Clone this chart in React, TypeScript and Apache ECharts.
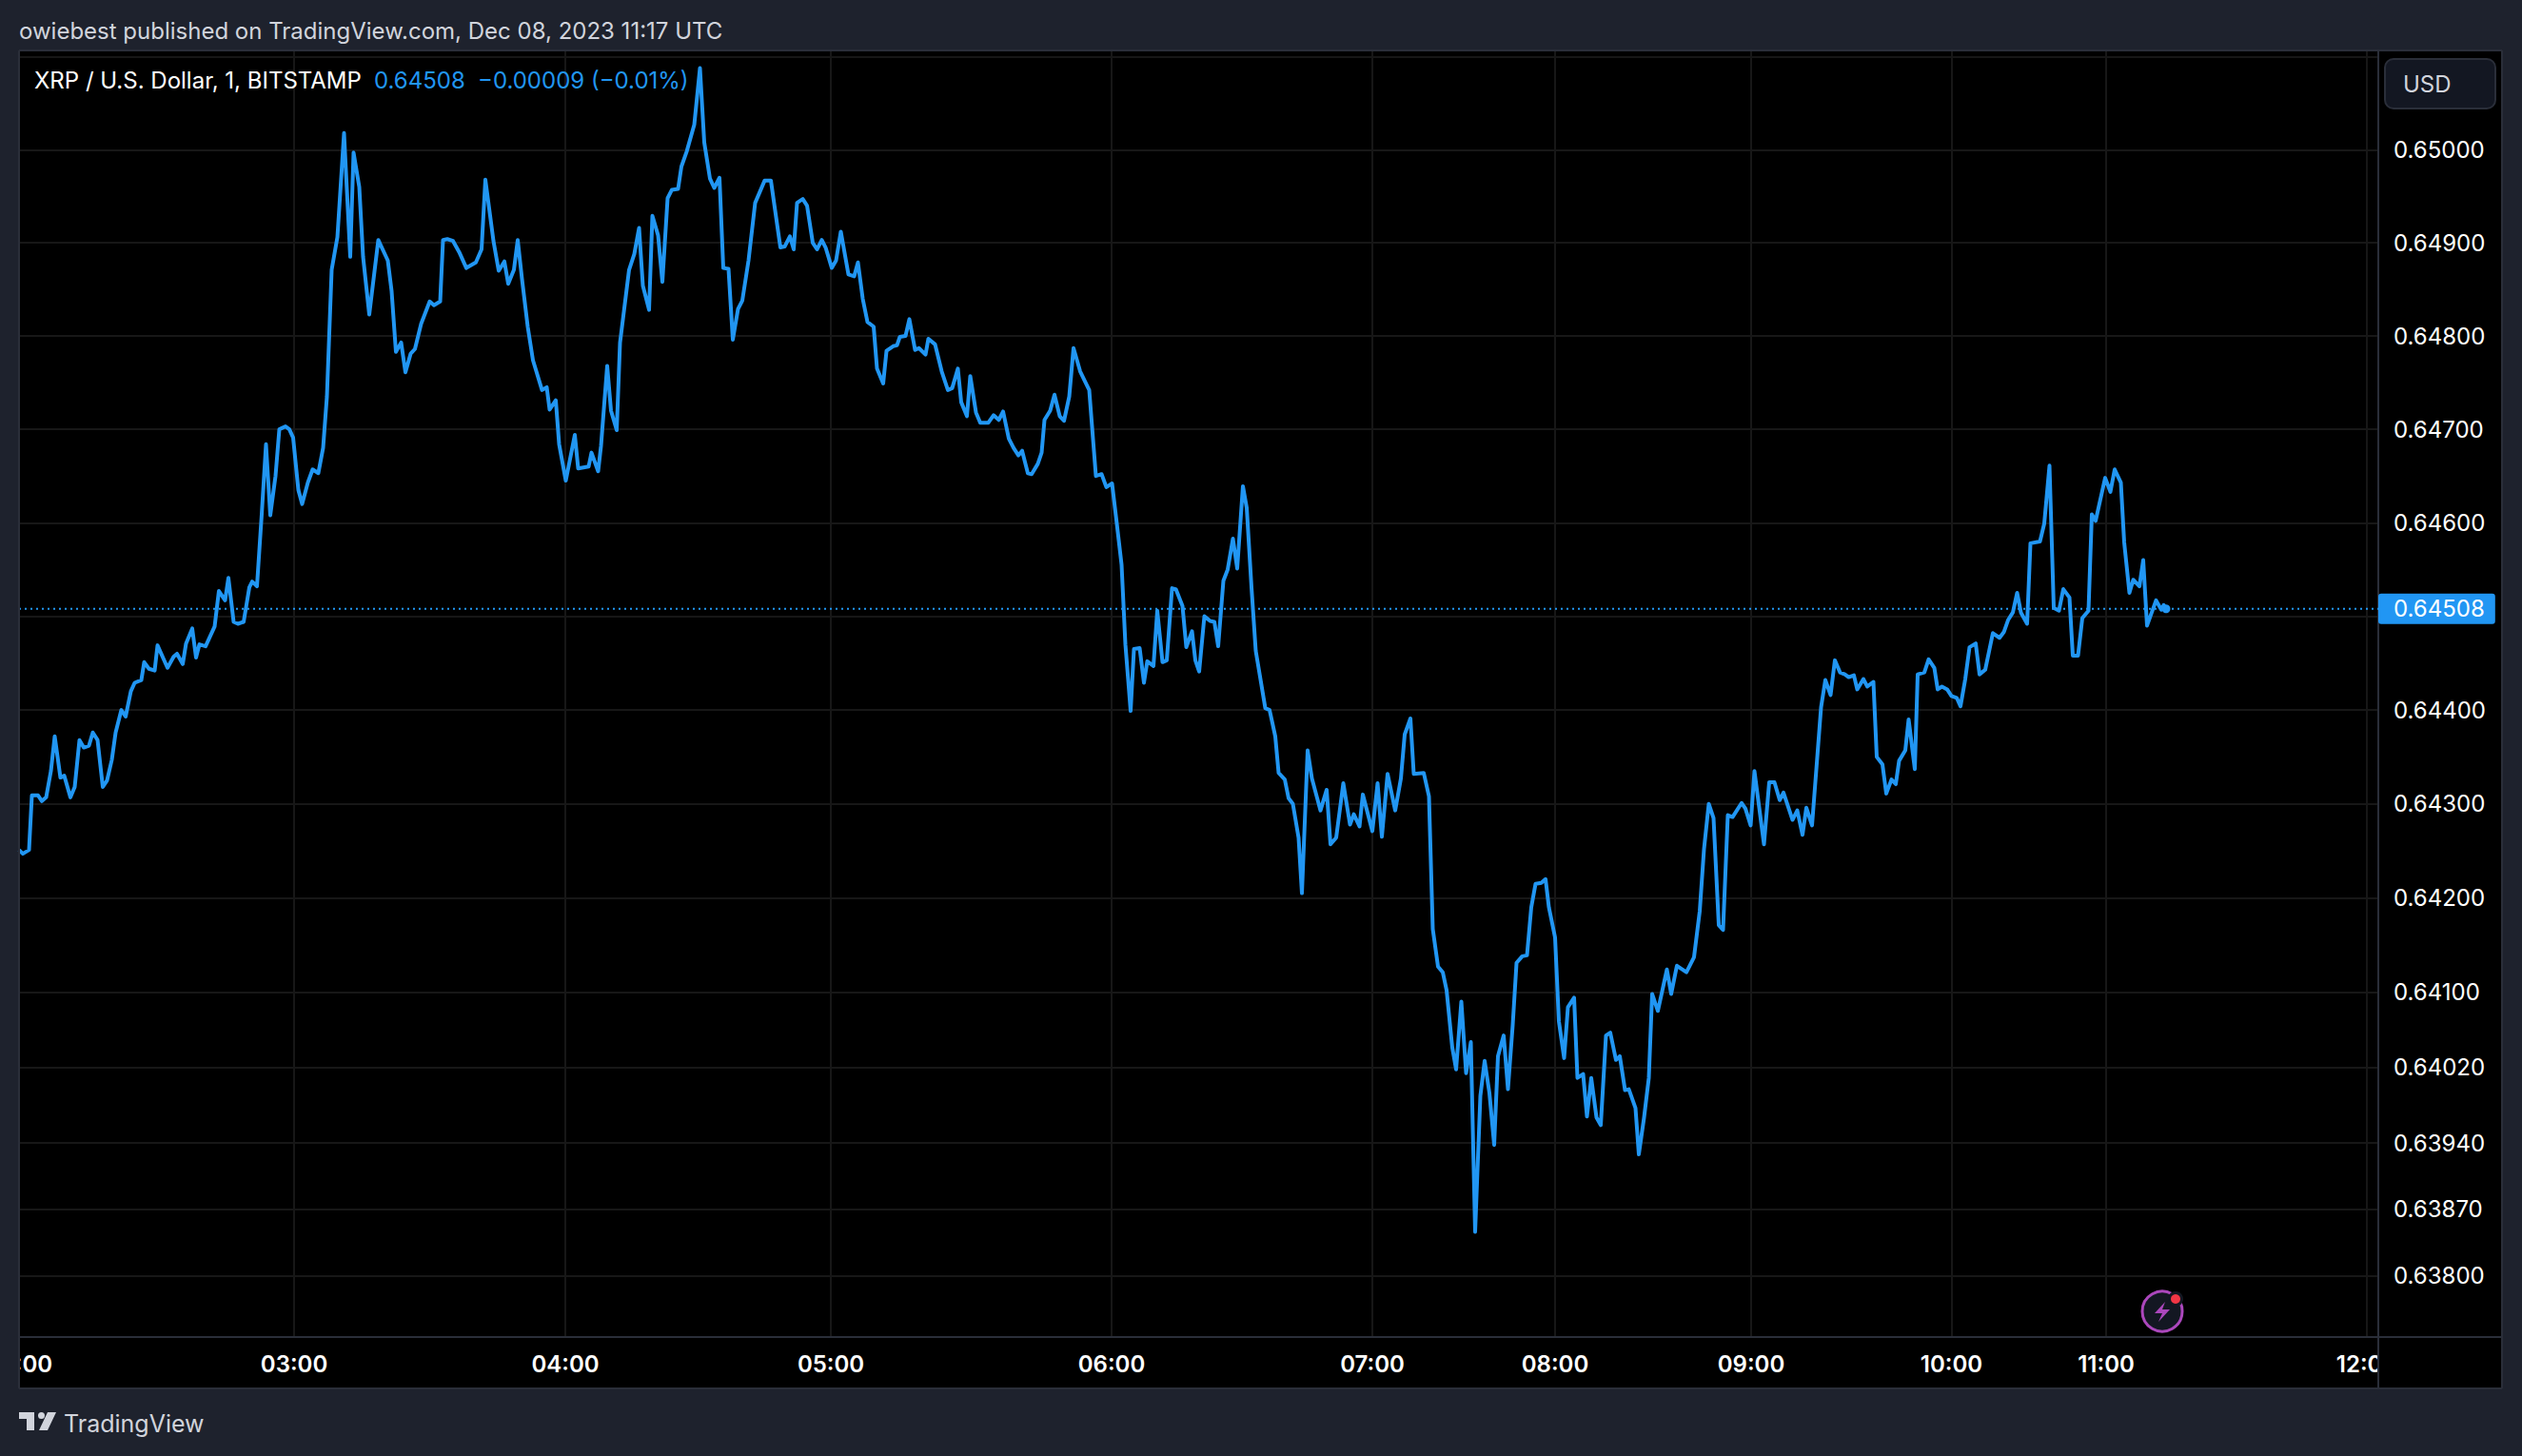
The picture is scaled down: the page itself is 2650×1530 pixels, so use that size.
import React, { useEffect, useRef } from "react";
import * as echarts from "echarts";

// [bar slot, close price]
const closeByBar: [number, number][] = [
  [0.1,0.64251],[0.9,0.64247],[2.2,0.64251],[2.8,0.64309],[4.1,0.64309],[4.9,0.64303],[5.8,0.64307],[6.8,0.64335],[7.6,0.64372],[8.8,0.64328],
  [9.6,0.6433],[10.9,0.64307],[11.8,0.64318],[12.8,0.64368],[13.7,0.6436],[14.8,0.64362],[15.6,0.64376],[16.6,0.64368],[17.7,0.64318],[18.6,0.64325],
  [19.6,0.64347],[20.4,0.64376],[21.6,0.644],[22.5,0.64393],[23.6,0.6442],[24.4,0.64429],[25.8,0.64432],[26.4,0.64451],[27.4,0.64444],[28.6,0.64442],
  [29.2,0.64469],[31.3,0.64445],[32.6,0.64457],[33.3,0.6446],[34.5,0.64449],[35.2,0.64471],[36.5,0.64487],[37.3,0.64456],[38,0.6447],[39.3,0.64468],
  [41.2,0.64489],[42.1,0.64527],[43.4,0.64517],[44.1,0.64541],[45.2,0.64494],[46.1,0.64492],[47.3,0.64494],[48.5,0.64531],[49.1,0.64537],[50.1,0.64532],
  [51.1,0.64609],[52,0.64684],[52.9,0.64608],[54,0.6465],[54.8,0.647],[56.1,0.64703],[56.9,0.647],[57.7,0.64691],[58.8,0.64635],[59.6,0.6462],
  [60.8,0.64643],[61.8,0.64657],[63,0.64653],[64,0.6468],[64.8,0.64735],[65.8,0.64871],[67,0.64906],[68.4,0.65018],[69.7,0.64885],[70.4,0.64997],
  [71.6,0.6496],[72.4,0.64885],[73.7,0.64823],[75.6,0.64903],[77.6,0.64881],[78.4,0.64848],[79.3,0.64783],[80.4,0.64793],[81.3,0.64761],[82.4,0.64781],
  [83.3,0.64786],[84.6,0.64813],[86.4,0.64837],[87.3,0.64833],[88.6,0.64837],[89.2,0.64903],[90.1,0.64904],[91.3,0.64902],[92.6,0.6489],[94.1,0.64873],
  [96.1,0.64879],[97.3,0.64893],[98.1,0.64968],[99.8,0.64902],[100.9,0.6487],[102.1,0.6488],[102.9,0.64856],[104.1,0.64871],[104.9,0.64903],[105.8,0.64861],
  [107,0.6481],[108.1,0.64774],[110,0.64742],[111,0.64745],[111.6,0.64721],[112.9,0.64731],[113.6,0.64684],[115,0.64645],[116.9,0.64694],[117.6,0.64658],
  [119.8,0.6466],[120.4,0.64675],[121.8,0.64655],[122.4,0.64682],[123.7,0.64768],[124.5,0.6472],[125.7,0.64699],[126.4,0.64793],[128.3,0.64871],[129.4,0.64888],
  [130.4,0.64916],[131.2,0.64854],[132.5,0.64828],[133.2,0.64929],[134.4,0.64908],[135.3,0.64858],[136.4,0.64948],[137.3,0.64957],[138.6,0.64958],[139.3,0.64982],
  [140.4,0.64998],[142,0.65027],[143.2,0.65088],[144.1,0.65008],[145.3,0.64969],[146.2,0.64959],[147.3,0.6497],[148.1,0.64873],[149.2,0.64872],[150.1,0.64796],
  [151.2,0.64829],[152.1,0.64838],[153.4,0.64881],[154.8,0.64943],[156.8,0.64967],[158.1,0.64967],[160.1,0.64895],[161,0.64896],[162.1,0.64907],[162.9,0.64893],
  [163.6,0.64943],[164.8,0.64947],[165.7,0.6494],[166.9,0.649],[167.8,0.64893],[168.8,0.64903],[169.6,0.64895],[170.9,0.64873],[171.8,0.64881],[172.8,0.64912],
  [174.4,0.64866],[175.6,0.64864],[176.4,0.64879],[177.4,0.6484],[178.4,0.64815],[179.7,0.6481],[180.4,0.64765],[181.7,0.64749],[182.4,0.64784],[183.8,0.64789],
  [184.6,0.6479],[185.2,0.64799],[186.4,0.648],[187.2,0.64818],[188.4,0.64785],[189.2,0.64787],[190.6,0.6478],[191.2,0.64797],[192.6,0.64791],[194,0.64762],
  [195.3,0.64742],[196.2,0.64744],[197.4,0.64765],[198.1,0.64729],[199.3,0.64714],[200,0.64757],[201.2,0.64718],[202.1,0.64707],[203.8,0.64707],[204.9,0.64715],
  [206,0.6471],[206.9,0.64719],[208.1,0.6469],[209.1,0.6468],[210.1,0.64672],[210.9,0.64677],[212.1,0.64653],[212.9,0.64652],[214.2,0.64663],[215,0.64675],
  [215.6,0.6471],[216.8,0.6472],[217.7,0.64737],[218.8,0.64714],[219.7,0.64709],[220.8,0.64735],[221.7,0.64787],[223.1,0.64762],[225,0.64742],[226.4,0.6465],
  [227.6,0.64652],[228.6,0.64638],[229.8,0.64642],[230.8,0.64599],[231.8,0.64555],[232.6,0.6447],[233.7,0.64399],[234.4,0.64465],[235.6,0.64466],[236.5,0.64429],
  [237.2,0.64452],[238.5,0.64447],[239.3,0.64506],[240.4,0.64451],[241.3,0.64453],[242.4,0.6453],[243.2,0.64529],[244.6,0.64511],[245.4,0.64467],[246.6,0.64484],
  [247.3,0.64453],[248.1,0.64441],[249.2,0.645],[250.4,0.64495],[251.3,0.64494],[252.1,0.64468],[253.2,0.64538],[254.1,0.6455],[255.2,0.64583],[256.1,0.64551],
  [257.3,0.64639],[258.1,0.64616],[259.1,0.64531],[260,0.64463],[262,0.64402],[262.9,0.644],[264.1,0.64372],[264.8,0.64333],[266.1,0.64326],[266.9,0.64306],
  [267.8,0.643],[269,0.64264],[269.7,0.64205],[270.9,0.64357],[271.8,0.64327],[273.6,0.64293],[274.9,0.64315],[275.7,0.64257],[276.9,0.64264],[278.4,0.64322],
  [279.8,0.64278],[280.6,0.64289],[281.8,0.64276],[282.5,0.6431],[284.5,0.64271],[285.6,0.64322],[286.5,0.64265],[287.7,0.64332],[289.3,0.64293],[290.5,0.64327],
  [291.3,0.64374],[292.5,0.64391],[293.2,0.64332],[295.3,0.64333],[296.4,0.64308],[297.2,0.64167],[298.3,0.64127],[299.3,0.64121],[300.1,0.64102],[301.3,0.64041],
  [302.1,0.64018],[303.2,0.6409],[304.2,0.64014],[305.2,0.64047],[306.1,0.63846],[307.2,0.6399],[308.1,0.64027],[309.1,0.63993],[310.1,0.63938],[310.9,0.64032],
  [312.1,0.64054],[313,0.63997],[314,0.64065],[314.8,0.64131],[316,0.64138],[317,0.64139],[317.9,0.6419],[318.8,0.64215],[320,0.64216],[320.9,0.6422],
  [321.6,0.6419],[322.9,0.64158],[323.7,0.64069],[324.8,0.6403],[325.6,0.64084],[326.9,0.64094],[327.6,0.64009],[328.8,0.64013],[329.6,0.63968],[330.5,0.64009],
  [331.6,0.63967],[332.5,0.63959],[333.6,0.64054],[334.5,0.64057],[335.7,0.64028],[336.5,0.64032],[337.6,0.63996],[338.4,0.63997],[339.8,0.63977],[340.5,0.63928],
  [341.6,0.63967],[342.6,0.64009],[343.3,0.64098],[344.5,0.6408],[346.4,0.64124],[347.3,0.64098],[348.5,0.64128],[350.5,0.64121],[352.1,0.64137],[353.3,0.64186],
  [354.2,0.64252],[355.2,0.643],[356.2,0.64285],[357.3,0.64171],[358.2,0.64166],[359.2,0.64288],[360.2,0.64286],[362.1,0.64301],[362.9,0.64295],[364,0.64277],
  [364.8,0.64335],[366.8,0.64257],[367.9,0.64323],[369,0.64323],[370.1,0.64304],[370.9,0.64312],[372.8,0.64283],[373.8,0.64293],[374.9,0.64267],[375.7,0.64296],
  [376.9,0.64277],[378.8,0.64403],[379.7,0.64432],[380.8,0.64416],[381.7,0.64453],[382.8,0.6444],[383.8,0.64438],[384.6,0.64435],[385.7,0.64437],[386.4,0.64422],
  [387.7,0.64433],[388.5,0.64425],[389.8,0.6443],[390.5,0.6435],[391.7,0.64342],[392.5,0.64311],[393.6,0.64326],[394.5,0.64321],[395.2,0.64346],[396.5,0.64357],
  [397.2,0.6439],[398.5,0.64337],[399.1,0.64438],[400.5,0.6444],[401.4,0.64454],[402.6,0.64445],[403.3,0.64422],[404.2,0.64425],[405.3,0.64422],[406.2,0.64415],
  [407.3,0.64413],[408.1,0.64404],[409.1,0.64433],[410,0.64467],[411.3,0.64471],[412.1,0.64438],[413.3,0.64443],[414.9,0.64482],[416.3,0.64477],[417.2,0.64483],
  [418.1,0.64496],[419.1,0.64504],[420,0.64525],[420.8,0.64504],[422.1,0.64492],[422.8,0.64578],[424.8,0.6458],[425.7,0.64599],[426.8,0.64661],[427.7,0.64509],
  [428.8,0.64506],[429.7,0.64529],[431,0.6452],[431.7,0.64458],[432.8,0.64458],[433.7,0.64498],[435,0.64506],[435.7,0.64609],[436.5,0.64602],[438.5,0.64648],
  [439.6,0.64633],[440.5,0.64657],[441.8,0.64643],[442.5,0.64579],[443.6,0.64525],[444.4,0.64539],[445.7,0.64532],[446.5,0.6456],[447.3,0.6449],[449.2,0.64517],
  [450.3,0.64507],[450.8,0.64512],[451.3,0.64508],
];

const hourBars = [0.1, 57.9, 114.9, 170.7, 229.7, 284.5, 322.9, 364.1, 406.2, 438.7, 493.5];
const hourLabels = ["02:00", "03:00", "04:00", "05:00", "06:00", "07:00", "08:00", "09:00", "10:00", "11:00", "12:00"];
const priceGridValues = [0.651, 0.65, 0.649, 0.648, 0.647, 0.646, 0.645, 0.644, 0.643, 0.642, 0.641, 0.6402, 0.6394, 0.6387, 0.638];
const priceLabelValues = [0.65, 0.649, 0.648, 0.647, 0.646, 0.644, 0.643, 0.642, 0.641, 0.6402, 0.6394, 0.6387, 0.638];
const lastPrice = 0.64508;
const lastPriceLabel = "0.64508";
const xMin = 0.1;
const xMax = 495.9;
const publishedText = "owiebest published on TradingView.com, Dec 08, 2023 11:17 UTC";
const symbolText = "XRP / U.S. Dollar, 1, BITSTAMP";
const changeText = "−0.00009 (−0.01%)";

const FONT = "Inter, 'Noto Sans', sans-serif";
const PAGE = "#1e222d";
const BORDER = "#2a2e39";
const BLUE = "#2196f3";
const GRIDLINE = "#171717";

const tvLogoPath =
  "M0 0H16V19H8V7H0Z M27 3.5A3.5 3.5 0 1 1 20 3.5A3.5 3.5 0 1 1 27 3.5Z M30 0H39L30 19H21Z";
const boltPath = "M11 0L0 12H8L4 21L16 8H8Z";

export default function App() {
  const ref = useRef<HTMLDivElement>(null);
  useEffect(() => {
    document.body.style.margin = "0";
    document.body.style.background = PAGE;
    echarts.graphic.registerShape("tvLogo", echarts.graphic.extendPath(tvLogoPath, {}) as any);
    echarts.graphic.registerShape("bolt", echarts.graphic.extendPath(boltPath, {}) as any);
    const chart = echarts.init(ref.current!, null, { renderer: "svg" });
    const line = (x1: number, y1: number, x2: number, y2: number, z = 60) => ({
      type: "line",
      z,
      shape: { x1, y1, x2, y2 },
      style: { stroke: BORDER, lineWidth: 2 },
      silent: true,
    });
    const txt = (x: number, y: number, text: string, fill: string, fontSize = 24, extra: any = {}) => ({
      type: "text",
      x,
      y,
      z: 70,
      silent: true,
      style: { text, fill, fontSize, fontFamily: FONT, verticalAlign: "middle", align: "left", ...extra },
    });
    chart.setOption({
      animation: false,
      backgroundColor: PAGE,
      grid: { left: 20, right: 151, top: 53, bottom: 125, containLabel: false, outerBoundsMode: "none" },
      xAxis: {
        type: "value",
        min: xMin,
        max: xMax,
        axisLine: { show: false },
        axisTick: { show: false, customValues: hourBars },
        splitLine: { show: true, lineStyle: { color: GRIDLINE, width: 2 } },
        axisLabel: {
          customValues: hourBars,
          margin: 16,
          showMinLabel: true,
          showMaxLabel: true,
          hideOverlap: false,
          color: "#ffffff",
          fontSize: 24,
          fontWeight: 600,
          fontFamily: FONT,
          formatter: (v: number) => hourLabels[hourBars.indexOf(v)] ?? "",
        },
      },
      yAxis: {
        type: "log",
        logBase: 10,
        min: 0.63735,
        max: 0.65107,
        position: "right",
        axisLine: { show: false },
        axisTick: { show: false, customValues: priceGridValues },
        splitLine: { show: true, lineStyle: { color: GRIDLINE, width: 2 } },
        minorSplitLine: { show: false },
        axisLabel: {
          customValues: priceLabelValues,
          margin: 16,
          color: "#ffffff",
          fontSize: 24,
          fontFamily: FONT,
          showMinLabel: true,
          showMaxLabel: true,
          hideOverlap: false,
          formatter: (v: number) => Number(v).toFixed(5),
        },
      },
      series: [
        {
          type: "line",
          data: closeByBar,
          showSymbol: false,
          symbol: "none",
          z: 5,
          lineStyle: { color: BLUE, width: 4, join: "round" },
          markPoint: {
            silent: true,
            symbol: "circle",
            symbolSize: 9,
            animation: false,
            itemStyle: { color: BLUE },
            label: { show: false },
            data: [{ coord: closeByBar[closeByBar.length - 1] }],
          },
        },
        {
          type: "line",
          data: [[xMin, lastPrice], [xMax, lastPrice]],
          showSymbol: false,
          symbol: "none",
          silent: true,
          z: 4,
          clip: false,
          lineStyle: { color: BLUE, width: 2, type: [2, 4] },
          endLabel: {
            show: true,
            distance: 0,
            formatter: lastPriceLabel,
            color: "#ffffff",
            fontSize: 24,
            fontFamily: FONT,
            backgroundColor: BLUE,
            borderRadius: 3,
            padding: [4, 11, 4, 16],
          },
        },
      ],
      graphic: {
        elements: [
          { type: "rect", z: -10, silent: true, shape: { x: 20, y: 53, width: 2609, height: 1406 }, style: { fill: "#000000" } },
          { type: "rect", z: 50, silent: true, shape: { x: 0, y: 1407, width: 20, height: 52 }, style: { fill: PAGE } },
          { type: "rect", z: 50, silent: true, shape: { x: 2500, y: 1407, width: 128, height: 51 }, style: { fill: "#000000" } },
          line(20, 53, 2629, 53),
          line(20, 53, 20, 1459),
          line(20, 1459, 2629, 1459),
          line(2629, 53, 2629, 1459),
          line(2499, 53, 2499, 1459, 3),
          line(20, 1405, 2629, 1405),
          txt(20, 32, publishedText, "#d1d4dc", 24),
          txt(36, 84, symbolText, "#ffffff", 24),
          txt(393, 84, lastPriceLabel, BLUE, 24),
          txt(502, 84, changeText, BLUE, 24),
          {
            type: "rect", z: 65, silent: true,
            shape: { x: 2506, y: 62, width: 116, height: 52, r: 9 },
            style: { fill: "#131722", stroke: BORDER, lineWidth: 2 },
          },
          txt(2525, 88, "USD", "#d1d4dc", 24),
          { type: "tvLogo", z: 70, silent: true, x: 20, y: 1484, style: { fill: "#d1d4dc" } },
          txt(67, 1496, "TradingView", "#d1d4dc", 25),
          { type: "circle", z: 70, silent: true, shape: { cx: 2272, cy: 1378, r: 21 }, style: { fill: "#131722", stroke: "#ab47bc", lineWidth: 3 } },
          { type: "bolt", z: 71, silent: true, x: 2264, y: 1368, style: { fill: "#ab47bc" } },
          { type: "circle", z: 72, silent: true, shape: { cx: 2286, cy: 1365, r: 8 }, style: { fill: "#131722" } },
          { type: "circle", z: 73, silent: true, shape: { cx: 2286, cy: 1365, r: 5 }, style: { fill: "#f23645" } },
        ],
      },
    });
    return () => chart.dispose();
  }, []);
  return <div ref={ref} style={{ position: "absolute", left: 0, top: 0, width: 2650, height: 1530 }} />;
}
